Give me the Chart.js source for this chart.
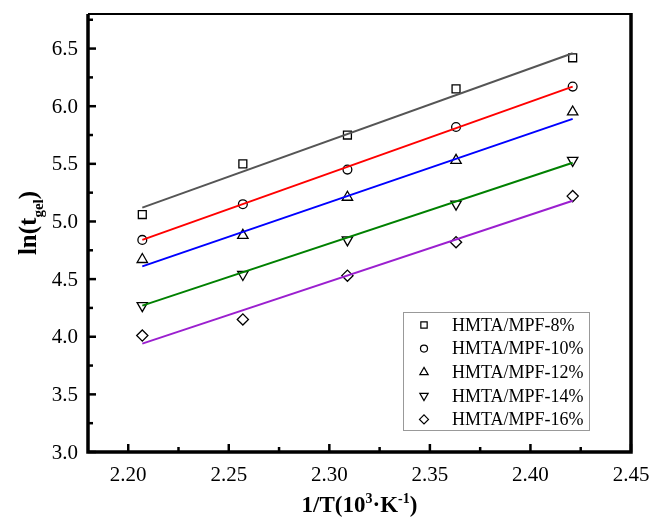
<!DOCTYPE html>
<html>
<head>
<meta charset="utf-8">
<script src="https://cdn.jsdelivr.net/npm/chart.js@4/dist/chart.umd.min.js"></script>
<style>
  html, body { margin: 0; padding: 0; background: #fff; }
  #wrap { width: 652px; height: 520px; }
</style>
</head>
<body>
<div id="wrap"><canvas id="myChart" width="652" height="520"></canvas></div>
<script>
// data
var xVals = [2.207, 2.257, 2.309, 2.363, 2.421];
var labels = ['HMTA/MPF-8%', 'HMTA/MPF-10%', 'HMTA/MPF-12%', 'HMTA/MPF-14%', 'HMTA/MPF-16%'];
var y8  = [5.06, 5.50, 5.75, 6.15, 6.42];
var y10 = [4.84, 5.15, 5.45, 5.82, 6.17];
var y12 = [4.67, 4.88, 5.21, 5.53, 5.95];
var y14 = [4.27, 4.54, 4.84, 5.15, 5.53];
var y16 = [4.01, 4.15, 4.53, 4.82, 5.22];
// fitted line end points (x from first to last point)
var fitX = [2.207, 2.421];
var fit8  = [5.12, 6.46];
var fit10 = [4.84, 6.17];
var fit12 = [4.61, 5.89];
var fit14 = [4.27, 5.51];
var fit16 = [3.94, 5.18];
var xTicks = [2.20, 2.25, 2.30, 2.35, 2.40, 2.45];
var yTicks = [3.0, 3.5, 4.0, 4.5, 5.0, 5.5, 6.0, 6.5];

var lineColors = ['#555555', '#ff0000', '#0000ff', '#008000', '#9b1fcf'];
var styles = ['rect', 'circle', 'triangle', 'triangle', 'rectRot'];
var rots = [0, 0, 0, 180, 0];
var radii = [5.6, 4.4, 6, 6, 5.6];

var serif = '"Liberation Serif", "Times New Roman", serif';
Chart.defaults.font.family = serif;

function pts(ys, xs) {
  return ys.map(function (v, i) { return {x: xs[i], y: v}; });
}

var pointSets = [y8, y10, y12, y14, y16];
var fitSets = [fit8, fit10, fit12, fit14, fit16];
var datasets = [];
fitSets.forEach(function (f, i) {
  datasets.push({
    type: 'line', label: 'fit' + i, data: pts(f, fitX),
    borderColor: lineColors[i], borderWidth: 2, pointRadius: 0, fill: false, showLine: true
  });
});
pointSets.forEach(function (s, i) {
  datasets.push({
    type: 'scatter', label: labels[i], data: pts(s, xVals),
    pointStyle: styles[i], rotation: rots[i], pointRadius: radii[i],
    borderColor: '#000', backgroundColor: 'rgba(0,0,0,0)', borderWidth: 1.3
  });
});

// frame, inward ticks, tick labels, legend, axis titles
var decor = {
  id: 'decor',
  afterDraw: function (chart) {
    var ctx = chart.ctx, a = chart.chartArea;
    var xs = chart.scales.x, ys = chart.scales.y;
    ctx.save();
    ctx.strokeStyle = '#000';
    ctx.fillStyle = '#000';
    ctx.lineCap = 'butt';
    // ticks + labels
    ctx.lineWidth = 2.5;
    ctx.font = '21px ' + serif;
    ctx.textAlign = 'center';
    ctx.textBaseline = 'alphabetic';
    xTicks.forEach(function (t) {
      var p = xs.getPixelForValue(t);
      ctx.beginPath(); ctx.moveTo(p, a.bottom); ctx.lineTo(p, a.bottom - 8); ctx.stroke();
      ctx.fillText(t.toFixed(2), p, a.bottom + 29);
      var m = xs.getPixelForValue(t + 0.025);
      if (m < a.right - 2) { ctx.beginPath(); ctx.moveTo(m, a.bottom); ctx.lineTo(m, a.bottom - 5); ctx.stroke(); }
    });
    ctx.textAlign = 'right';
    ctx.textBaseline = 'middle';
    yTicks.forEach(function (t) {
      var p = ys.getPixelForValue(t);
      ctx.beginPath(); ctx.moveTo(a.left, p); ctx.lineTo(a.left + 8, p); ctx.stroke();
      ctx.fillText(t.toFixed(1), a.left - 10, p + 1);
      var m = ys.getPixelForValue(t + 0.25);
      if (m > a.top + 2) { ctx.beginPath(); ctx.moveTo(a.left, m); ctx.lineTo(a.left + 5, m); ctx.stroke(); }
    });
    // frame
    ctx.lineWidth = 2;
    ctx.beginPath(); ctx.moveTo(a.left, a.top); ctx.lineTo(a.right, a.top); ctx.stroke();
    ctx.lineWidth = 3.5;
    ctx.beginPath();
    ctx.moveTo(a.left, a.top); ctx.lineTo(a.left, a.bottom); ctx.lineTo(a.right, a.bottom); ctx.lineTo(a.right, a.top - 1);
    ctx.stroke();

    // legend
    var bx = 403, by = 312, bw = 186, bh = 118;
    ctx.lineWidth = 1;
    ctx.strokeStyle = '#999';
    ctx.fillStyle = '#fff';
    ctx.fillRect(bx, by, bw, bh);
    ctx.strokeRect(bx + 0.5, by + 0.5, bw, bh);
    ctx.font = '18px ' + serif;
    ctx.textBaseline = 'middle';
    ctx.textAlign = 'left';
    labels.forEach(function (lab, i) {
      var yy = by + 13 + i * 23.6;
      ctx.strokeStyle = '#000';
      ctx.fillStyle = '#fff';
      ctx.lineWidth = 1.2;
      Chart.helpers.drawPoint(ctx, {pointStyle: styles[i], rotation: rots[i], radius: radii[i] * 0.8, borderWidth: 1.2}, 424, yy);
      ctx.fillStyle = '#000';
      ctx.fillText(lab, 452, yy + 1);
    });

    // x title
    ctx.fillStyle = '#000';
    ctx.textBaseline = 'alphabetic';
    var bold = 'bold 23px ' + serif, sup = 'bold 14px ' + serif;
    var parts = [['1/T(10', bold, 0], ['3', sup, -9], ['\u00B7K', bold, 0], ['-1', sup, -9], [')', bold, 0]];
    var w = 0;
    parts.forEach(function (p) { ctx.font = p[1]; w += ctx.measureText(p[0]).width; });
    var cx = (a.left + a.right) / 2 - w / 2, base = 512;
    parts.forEach(function (p) { ctx.font = p[1]; ctx.fillText(p[0], cx, base + p[2]); cx += ctx.measureText(p[0]).width; });

    // y title
    ctx.translate(36, (a.top + a.bottom) / 2 - 10);
    ctx.rotate(-Math.PI / 2);
    var yb = 'bold 25px ' + serif, ysub = 'bold 15px ' + serif;
    var yparts = [['ln(t', yb, 0], ['gel', ysub, 7], [')', yb, 0]];
    w = 0;
    yparts.forEach(function (p) { ctx.font = p[1]; w += ctx.measureText(p[0]).width; });
    cx = -w / 2;
    yparts.forEach(function (p) { ctx.font = p[1]; ctx.fillText(p[0], cx, p[2]); cx += ctx.measureText(p[0]).width; });
    ctx.restore();
  }
};

var ctx = document.getElementById('myChart').getContext('2d');
var myChart = new Chart(ctx, {
  type: 'scatter',
  data: { datasets: datasets },
  options: {
    responsive: false,
    animation: false,
    layout: { padding: { top: 14, right: 21, left: 0, bottom: 0 } },
    plugins: { legend: { display: false }, tooltip: { enabled: false } },
    scales: {
      x: {
        type: 'linear', min: 2.18, max: 2.45,
        grid: { display: false, drawTicks: false },
        border: { display: false },
        afterBuildTicks: function (s) { s.ticks = xTicks.map(function (v) { return {value: v}; }); },
        afterFit: function (s) { s.height = 68; s.paddingLeft = 0; s.paddingRight = 0; },
        ticks: { display: false }
      },
      y: {
        type: 'linear', min: 3.0, max: 6.8,
        grid: { display: false, drawTicks: false },
        border: { display: false },
        afterBuildTicks: function (s) { s.ticks = yTicks.map(function (v) { return {value: v}; }); },
        afterFit: function (s) { s.width = 88; s.paddingTop = 0; s.paddingBottom = 0; },
        ticks: { display: false }
      }
    }
  },
  plugins: [decor]
});
</script>
</body>
</html>
